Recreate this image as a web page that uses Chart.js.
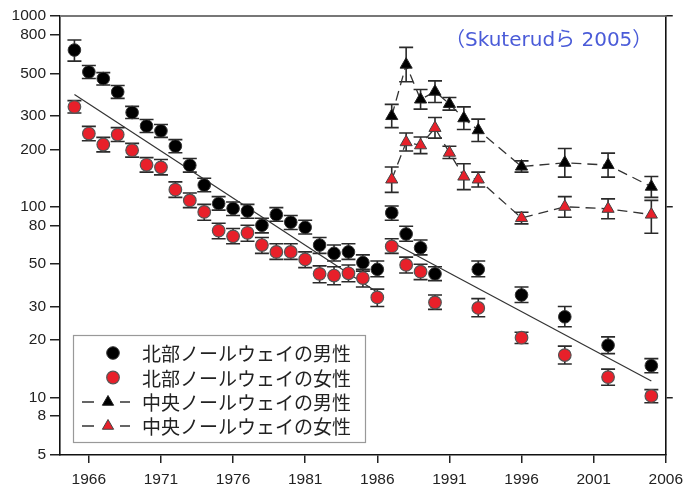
<!DOCTYPE html>
<html>
<head>
<meta charset="utf-8">
<script src="https://cdn.jsdelivr.net/npm/chart.js@4.4.0/dist/chart.umd.min.js"></script>
<style>
html,body{margin:0;padding:0;background:#fff;}
#wrap{width:690px;height:488px;position:relative;}
</style>
</head>
<body>
<div id="wrap"><canvas id="c" width="690" height="488"></canvas></div>
<script>
// ---- data ----
const northYears = [1965,1966,1967,1968,1969,1970,1971,1972,1973,1974,1975,1976,1977,1978,1979,1980,1981,1982,1983,1984,1985,1986,1987,1988,1989,1990,1993,1996,1999,2002,2005];
const northMen     = [663,509,470,400,312,265,250,208,165,130,104,98,95,80,91,83,78,63,57,58,51,47,93,72,61,44.5,47,34.5,26.5,18.8,14.7];
const northMenLow  = [580,470,435,370,290,245,231,192,152,120,96,90,87,73,84,76,72,57,52,53,46,43,85,66,56,41,43,31.5,23.5,17,13.5];
const northMenHigh = [748,550,505,432,336,287,270,225,179,141,113,106,103,87,99,90,85,69,63,64,56,52,101,79,67,48.5,52,38,30,20.8,16];
const northWomen     = [334,242,212,239,198,166,161,123,108,94,75,70,73,63,58,58,53,44.5,43.6,44.8,42.3,33.5,62,49.6,45.7,31.5,29.5,20.6,16.7,12.8,10.2];
const northWomenLow  = [310,222,194,220,182,152,147,112,99,85,68,64,66,57,53,53,48,40,39,40.5,38,30,57,45,41.5,29,26.5,19.2,15,11.6,9.4];
const northWomenHigh = [360,264,231,260,215,181,177,135,118,103,82,77,80,69,64,64,58,49,48.5,49.5,47,37,68,54.5,50,34.5,33,22,18.6,14.1,11];

const centralYears = [1987,1988,1989,1990,1991,1992,1993,1996,1999,2002,2005];
const centralMen     = [299,556,365,401,346,291,252,162.5,170,165.5,127.4];
const centralMenLow  = [260,452,325,352,321,254,220,152,143,143,112];
const centralMenHigh = [344,685,412,457,374,334,288,174,202,191,144];
const centralWomen     = [139,218,210,259,192,144,139,87.3,100,97.6,91];
const centralWomenLow  = [119,196,190,229,179,123,127,81.4,88.2,86.5,72.7];
const centralWomenHigh = [161.5,243.6,232,294,207.5,168,152,93.7,113,110,108];

const fitYears1 = [1965, 1986];
const fitValues1 = [388, 35.6];
const fitYears2 = [1987.2, 2005];
const fitValues2 = [64, 12.2];

const xTickYears = [1966,1971,1976,1981,1986,1991,1996,2001,2006];
const yTickValues = [5,8,10,20,30,50,80,100,200,300,500,800,1000];
const yRightTicks = [10,100,1000];

const seriesLabels = ['北部ノールウェイの男性','北部ノールウェイの女性','中央ノールウェイの男性','中央ノールウェイの女性'];
const sourceNote = '（Skuterudら 2005）';

// ---- build ----
function pts(xs, ys){ return xs.map((x,i)=>({x:x, y:ys[i]})); }

const RED = '#e8202a';
const datasets = [
  { label: seriesLabels[0], data: pts(northYears,northMen), errLow: northMenLow, errHigh: northMenHigh,
    showLine:false, pointStyle:'circle', pointRadius:6.3, backgroundColor:'#000', borderColor:'#333', pointBorderWidth:1, order:1 },
  { label: seriesLabels[1], data: pts(northYears,northWomen), errLow: northWomenLow, errHigh: northWomenHigh,
    showLine:false, pointStyle:'circle', pointRadius:6.3, backgroundColor:RED, borderColor:'#555', pointBorderWidth:1.2, order:2 },
  { label: seriesLabels[2], data: pts(centralYears,centralMen), errLow: centralMenLow, errHigh: centralMenHigh,
    showLine:true, borderDash:[10,6], borderColor:'#333', borderWidth:1.3, pointStyle:'triangle', pointRadius:7,
    backgroundColor:'#000', pointBorderColor:'#222', pointBackgroundColor:'#000', pointBorderWidth:1, order:3 },
  { label: seriesLabels[3], data: pts(centralYears,centralWomen), errLow: centralWomenLow, errHigh: centralWomenHigh,
    showLine:true, borderDash:[10,6], borderColor:'#333', borderWidth:1.3, pointStyle:'triangle', pointRadius:7,
    backgroundColor:RED, pointBorderColor:'#444', pointBackgroundColor:RED, pointBorderWidth:1, order:4 },
  { label:'fit1', data: pts(fitYears1,fitValues1), showLine:true, borderColor:'#333', borderWidth:1.2, pointRadius:0, order:10 },
  { label:'fit2', data: pts(fitYears2,fitValues2), showLine:true, borderColor:'#333', borderWidth:1.2, pointRadius:0, order:11 }
];

const errorBars = {
  id:'errorBars',
  beforeDatasetsDraw(chart){
    const ctx = chart.ctx, xs = chart.scales.x, ys = chart.scales.y;
    ctx.save();
    ctx.strokeStyle = '#2a2a2a';
    ctx.lineWidth = 1.6;
    chart.data.datasets.forEach(ds=>{
      if(!ds.errLow) return;
      ds.data.forEach((p,i)=>{
        const x = xs.getPixelForValue(p.x);
        const yl = ys.getPixelForValue(ds.errLow[i]);
        const yh = ys.getPixelForValue(ds.errHigh[i]);
        ctx.beginPath();
        ctx.moveTo(x, yl); ctx.lineTo(x, yh);
        ctx.moveTo(x-7, yl); ctx.lineTo(x+7, yl);
        ctx.moveTo(x-7, yh); ctx.lineTo(x+7, yh);
        ctx.stroke();
      });
    });
    ctx.restore();
  }
};

const decor = {
  id:'decor',
  afterDraw(chart){
    const ctx = chart.ctx, a = chart.chartArea;
    ctx.save();
    // top frame line
    ctx.strokeStyle = '#777';
    ctx.lineWidth = 2;
    ctx.beginPath(); ctx.moveTo(a.left, a.top); ctx.lineTo(a.right, a.top); ctx.stroke();
    // source note
    ctx.fillStyle = '#4a5bd8';
    ctx.font = '20px "DejaVu Sans", "Noto Sans CJK JP", sans-serif';
    ctx.textBaseline = 'middle';
    ctx.textAlign = 'left';
    ctx.fillText(sourceNote, 445, 41);
    // legend box
    const bx = 73, by = 335, bw = 292, bh = 107;
    ctx.fillStyle = '#fff';
    ctx.fillRect(bx, by, bw, bh);
    ctx.strokeStyle = '#999';
    ctx.lineWidth = 1.2;
    ctx.strokeRect(bx+0.5, by+0.5, bw, bh);
    const rows = [353, 377.5, 402, 426];
    for (let i=0;i<4;i++){
      const ds = chart.data.datasets[i];
      const y = rows[i];
      if (ds.showLine){
        ctx.strokeStyle = '#333'; ctx.lineWidth = 1.3;
        ctx.beginPath(); ctx.moveTo(82,y); ctx.lineTo(94,y); ctx.moveTo(120,y); ctx.lineTo(130,y); ctx.stroke();
        ctx.fillStyle = ds.pointBackgroundColor; ctx.strokeStyle = ds.pointBorderColor; ctx.lineWidth = 1;
        Chart.helpers.drawPoint(ctx, {pointStyle:'triangle', radius:6.5, borderWidth:1, rotation:0}, 108, y);
      } else {
        ctx.fillStyle = ds.backgroundColor; ctx.strokeStyle = ds.borderColor; ctx.lineWidth = ds.pointBorderWidth;
        Chart.helpers.drawPoint(ctx, {pointStyle:'circle', radius:6.3, borderWidth:ds.pointBorderWidth, rotation:0}, 113, y);
      }
      ctx.fillStyle = '#222';
      ctx.font = '19px "Noto Sans CJK JP", sans-serif';
      ctx.textBaseline = 'middle';
      ctx.textAlign = 'left';
      ctx.fillText(ds.label, 142, y+1);
    }
    ctx.restore();
  }
};

const tickFont = {family:'"Liberation Sans", Arial, sans-serif', size:15.5};

new Chart(document.getElementById('c'), {
  type:'line',
  data:{ datasets },
  options:{
    responsive:false,
    animation:false,
    layout:{ padding:{ top:16, right:0, bottom:0, left:0 } },
    plugins:{ legend:{display:false}, tooltip:{enabled:false} },
    elements:{ line:{ tension:0 } },
    scales:{
      x:{
        type:'linear', min:1964, max:2006,
        afterBuildTicks(s){ s.ticks = xTickYears.map(v=>({value:v})); },
        afterFit(s){ s.height = 33; },
        ticks:{ callback:v=>String(v), font:tickFont, color:'#222', padding:7, maxRotation:0, autoSkip:false },
        grid:{ drawOnChartArea:false, drawTicks:true, tickLength:8, color:'#222', lineWidth:1.5 },
        border:{ color:'#111', width:1.6 }
      },
      y:{
        type:'logarithmic', min:5, max:1000, position:'left',
        afterBuildTicks(s){ s.ticks = yTickValues.map(v=>({value:v})); },
        afterFit(s){ s.width = 60; },
        ticks:{ callback:v=>String(v), font:tickFont, color:'#222', padding:4, autoSkip:false },
        grid:{ drawOnChartArea:false, drawTicks:true, tickLength:10, color:'#222', lineWidth:1.5 },
        border:{ color:'#111', width:1.6 }
      },
      y2:{
        type:'logarithmic', min:5, max:1000, position:'right',
        afterBuildTicks(s){ s.ticks = yRightTicks.map(v=>({value:v})); },
        afterFit(s){ s.width = 19; },
        ticks:{ display:false },
        grid:{ drawOnChartArea:false, drawTicks:true, tickLength:7, color:'#222', lineWidth:1.5 },
        border:{ color:'#111', width:1.6 }
      }
    }
  },
  plugins:[errorBars, decor]
});
</script>
</body>
</html>
